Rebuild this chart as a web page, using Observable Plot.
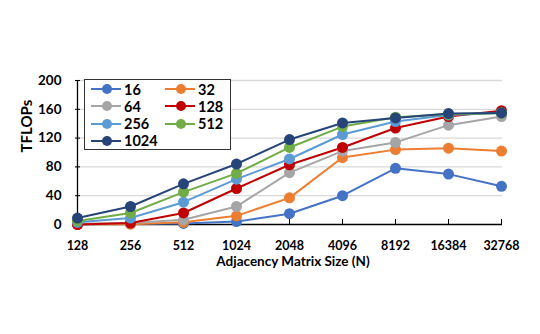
<!DOCTYPE html>
<html>
<head>
<meta charset="utf-8">
<script src="https://cdn.jsdelivr.net/npm/d3@7"></script>
<script src="https://cdn.jsdelivr.net/npm/@observablehq/plot@0.6"></script>
<style>
  html, body { margin: 0; padding: 0; background: #fff; }
  #wrap { position: relative; width: 540px; height: 334px; font-family: Lato, "Open Sans", sans-serif; }
  #legend { position: absolute; left: 84px; top: 79px; width: 147px; height: 71px; border: 1.3px solid #333; background: #fff; box-sizing: border-box; }
  .item { position: absolute; display: flex; align-items: center; font-weight: 700; font-size: 14.5px; color: #000; }
  .item svg { margin-right: 2px; }
</style>
</head>
<body>
<div id="wrap"><div id="chart"></div><div id="legend"></div></div>
<script>
const sizes = ["128", "256", "512", "1024", "2048", "4096", "8192", "16384", "32768"];
const seriesNames = ["16", "32", "64", "128", "256", "512", "1024"];
const colors = ["#4472C4", "#ED7D31", "#A5A5A5", "#C00000", "#5B9BD5", "#70AD47", "#264478"];
const s16   = [0.3, 1, 1.5, 4, 15, 40, 78, 70, 53];
const s32   = [0.3, 0.5, 3, 12, 37, 93, 104, 106, 102];
const s64   = [1, 2, 6.5, 25, 72, 102, 114, 138, 150];
const s128  = [0, 2, 16, 50, 83, 107, 134, 150, 158];
const s256  = [3, 9, 31, 63, 91, 125, 143, 152, 155];
const s512  = [5, 16, 45, 71, 107, 136, 149, 153, 155];
const s1024 = [9, 25, 56.5, 84, 118, 141, 148, 154, 155];
const yTicks = [0, 40, 80, 120, 160, 200];

const allSeries = [s16, s32, s64, s128, s256, s512, s1024];
const data = [];
allSeries.forEach((vals, i) => vals.forEach((v, j) => data.push({series: seriesNames[i], size: sizes[j], value: v})));

const font = "Lato, 'Open Sans', sans-serif";
const chart = Plot.plot({
  width: 540,
  height: 334,
  marginLeft: 75,
  marginRight: 38,
  marginTop: 80,
  marginBottom: 110,
  style: {fontFamily: font, fontWeight: 700, fontSize: "13px", color: "#000", background: "#fff"},
  x: {type: "point", domain: sizes, padding: 0},
  y: {domain: [0, 200]},
  color: {domain: seriesNames, range: colors},
  marks: [
    Plot.gridY(yTicks.filter(d => d > 0), {stroke: "#d9d9d9", strokeOpacity: 1, strokeWidth: 1.3}),
    Plot.ruleY([0], {stroke: "#000", strokeWidth: 1.3}),
    Plot.ruleX([sizes[0]], {y1: 0, y2: 200, stroke: "#000", strokeWidth: 1.3}),
    Plot.axisY({ticks: yTicks, tickSize: -5, tickPadding: 19, stroke: "#000", label: null, fontSize: 13.5}),
    Plot.axisX({tickSize: -5, tickPadding: 22, stroke: "#000", label: null, fontSize: 12.5}),
    Plot.text(["TFLOPs"], {frameAnchor: "left", dx: -48, rotate: -90, fontSize: 15, fontWeight: 700}),
    Plot.text(["Adjacency Matrix Size (N)"], {frameAnchor: "bottom", dy: 41, dx: 4, fontSize: 13.5, fontWeight: 700}),
    Plot.line(data, {x: "size", y: "value", z: "series", stroke: "series", strokeWidth: 2}),
    Plot.dot(data, {x: "size", y: "value", fill: "series", r: 5.5, stroke: "none"})
  ]
});
document.getElementById("chart").appendChild(chart);

const legend = document.getElementById("legend");
seriesNames.forEach((name, i) => {
  const col = i % 2, row = Math.floor(i / 2);
  const el = document.createElement("div");
  el.className = "item";
  el.style.left = (col === 0 ? 5 : 79) + "px";
  el.style.top = (1 + row * 17.3) + "px";
  el.style.height = "16px";
  el.innerHTML = `<svg width="32" height="12"><line x1="1" y1="6" x2="31" y2="6" stroke="${colors[i]}" stroke-width="2"/><circle cx="17" cy="6" r="5" fill="${colors[i]}"/></svg><span>${name}</span>`;
  legend.appendChild(el);
});
</script>
</body>
</html>
